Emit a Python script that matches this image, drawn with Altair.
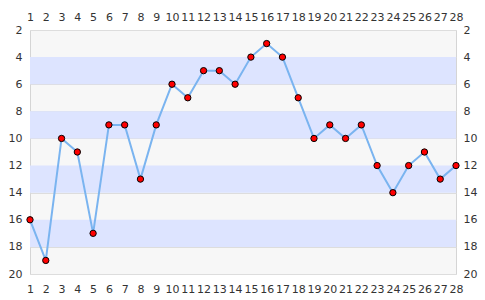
import altair as alt
import pandas as pd

xs = list(range(1, 29))
ys = [16, 19, 10, 11, 17, 9, 9, 13, 9, 6, 7, 5, 5, 6, 4, 3, 4, 7, 10, 9, 10, 9, 12, 14, 12, 11, 13, 12]
band_start = [4, 8, 12, 16]
band_end = [6, 10, 14, 18]
y_ticks = list(range(2, 21, 2))

df = pd.DataFrame({"x": xs, "y": ys})
bands = pd.DataFrame({"y0": band_start, "y1": band_end})

W, H = 426, 244
xscale = alt.Scale(domain=[1, 28], nice=False, zero=False)
yscale = alt.Scale(domain=[2, 20], reverse=True, nice=False, zero=False)

lab = dict(labelFont="DejaVu Sans", labelFontSize=11, labelColor="#333333",
           ticks=False, domain=False, title=None)

rect = alt.Chart(bands).mark_rect(color="#dde4ff").encode(
    x=alt.value(0), x2=alt.value(W),
    y=alt.Y("y0:Q", scale=yscale, axis=alt.Axis(orient="left", values=y_ticks, labelPadding=8,
                                                 grid=True, gridColor="#dddddd", **lab)),
    y2="y1:Q",
)

line = alt.Chart(df).mark_line(color="#7ab4f0", strokeWidth=2).encode(
    x=alt.X("x:Q", scale=xscale, axis=alt.Axis(orient="bottom", values=xs, labelPadding=9,
                                                labelFlush=False, grid=False, **lab)),
    y=alt.Y("y:Q", scale=yscale, axis=alt.Axis(orient="right", values=y_ticks, labelPadding=7,
                                                grid=False, **lab)),
)

pts = alt.Chart(df).mark_point(filled=True, fill="#ff0000", stroke="#000000", strokeWidth=1,
                               size=40, opacity=1).encode(
    x=alt.X("x:Q", scale=xscale, axis=alt.Axis(orient="top", values=xs, labelPadding=8,
                                                labelFlush=False, grid=False, **lab)),
    y=alt.Y("y:Q", scale=yscale, axis=None),
)

chart = alt.layer(rect, line, pts).resolve_axis(x="independent", y="independent").properties(
    width=W, height=H,
    autosize=alt.AutoSizeParams(type="none"),
    padding={"left": 30, "top": 30, "right": 29, "bottom": 26},
    background="#ffffff",
).configure_view(fill="#f7f7f7", stroke="#d5d5d5", strokeWidth=1)

chart.save("out.html", embed_options={"renderer": "svg", "actions": False})
